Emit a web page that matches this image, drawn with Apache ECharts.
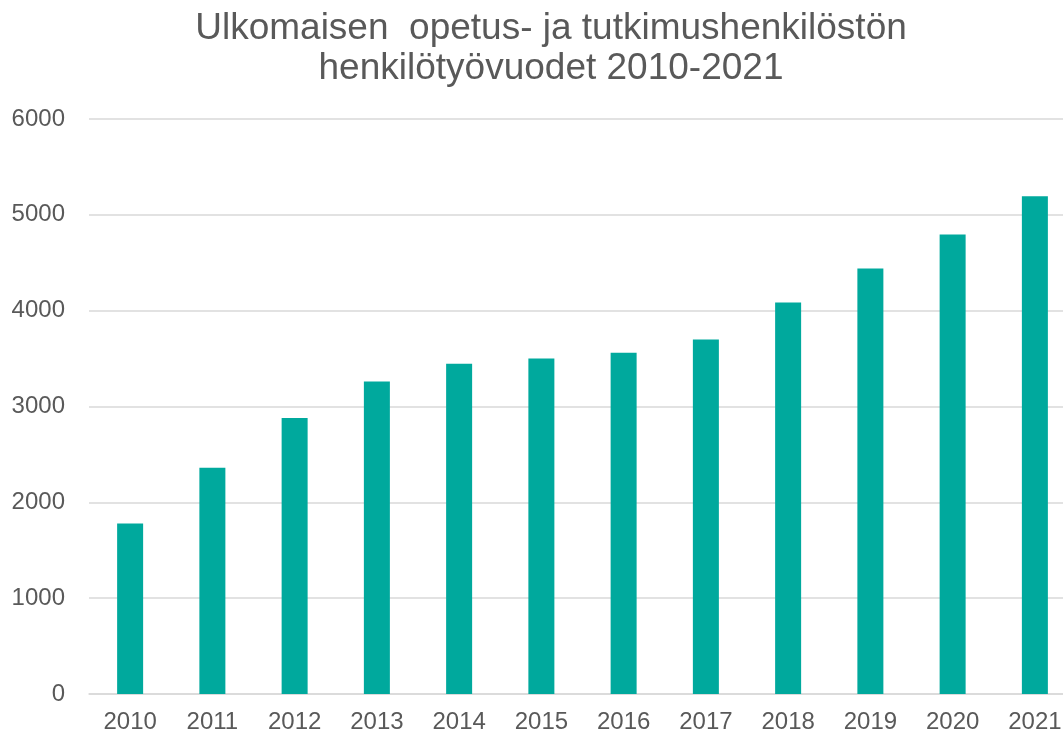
<!DOCTYPE html>
<html>
<head>
<meta charset="utf-8">
<script src="https://cdn.jsdelivr.net/npm/echarts@6/dist/echarts.min.js"></script>
<style>html,body{margin:0;padding:0;background:#fff;overflow:hidden}#c{width:1080px;height:734px}</style>
</head>
<body>
<div id="c"></div>
<script>
const titleText = "Ulkomaisen  opetus- ja tutkimushenkilöstön\nhenkilötyövuodet 2010-2021";
const years = ["2010","2011","2012","2013","2014","2015","2016","2017","2018","2019","2020","2021"];
const values = [1780, 2360, 2880, 3260, 3445, 3500, 3560, 3700, 4085, 4440, 4795, 5195];

const chart = echarts.init(document.getElementById('c'));
chart.setOption({
  animation: false,
  backgroundColor: '#fff',
  title: {
    text: titleText,
    left: 546, top: 4, textAlign: 'center',
    textStyle: { fontFamily: 'Liberation Sans, Arial', fontSize: 37, fontWeight: 'normal', color: '#595959', lineHeight: 40 }
  },
  grid: { left: 89, width: 987, top: 119, bottom: 39, containLabel: false },
  xAxis: {
    type: 'category', data: years,
    axisLine: { show: true, lineStyle: { color: '#d9d9d9', width: 1.5 } },
    axisTick: { show: false },
    axisLabel: { fontFamily: 'Liberation Sans, Arial', fontSize: 24, color: '#595959', margin: 16 }
  },
  yAxis: {
    type: 'value', min: 0, max: 6000, interval: 1000,
    axisLine: { show: false }, axisTick: { show: false },
    splitLine: { lineStyle: { color: '#d9d9d9', width: 1.5 } },
    axisLabel: { fontFamily: 'Liberation Sans, Arial', fontSize: 24, color: '#595959', margin: 24, formatter: v => String(v) }
  },
  series: [{
    type: 'bar', data: values, barWidth: 26,
    itemStyle: { color: '#00A99D' }
  }]
});
</script>
</body>
</html>
